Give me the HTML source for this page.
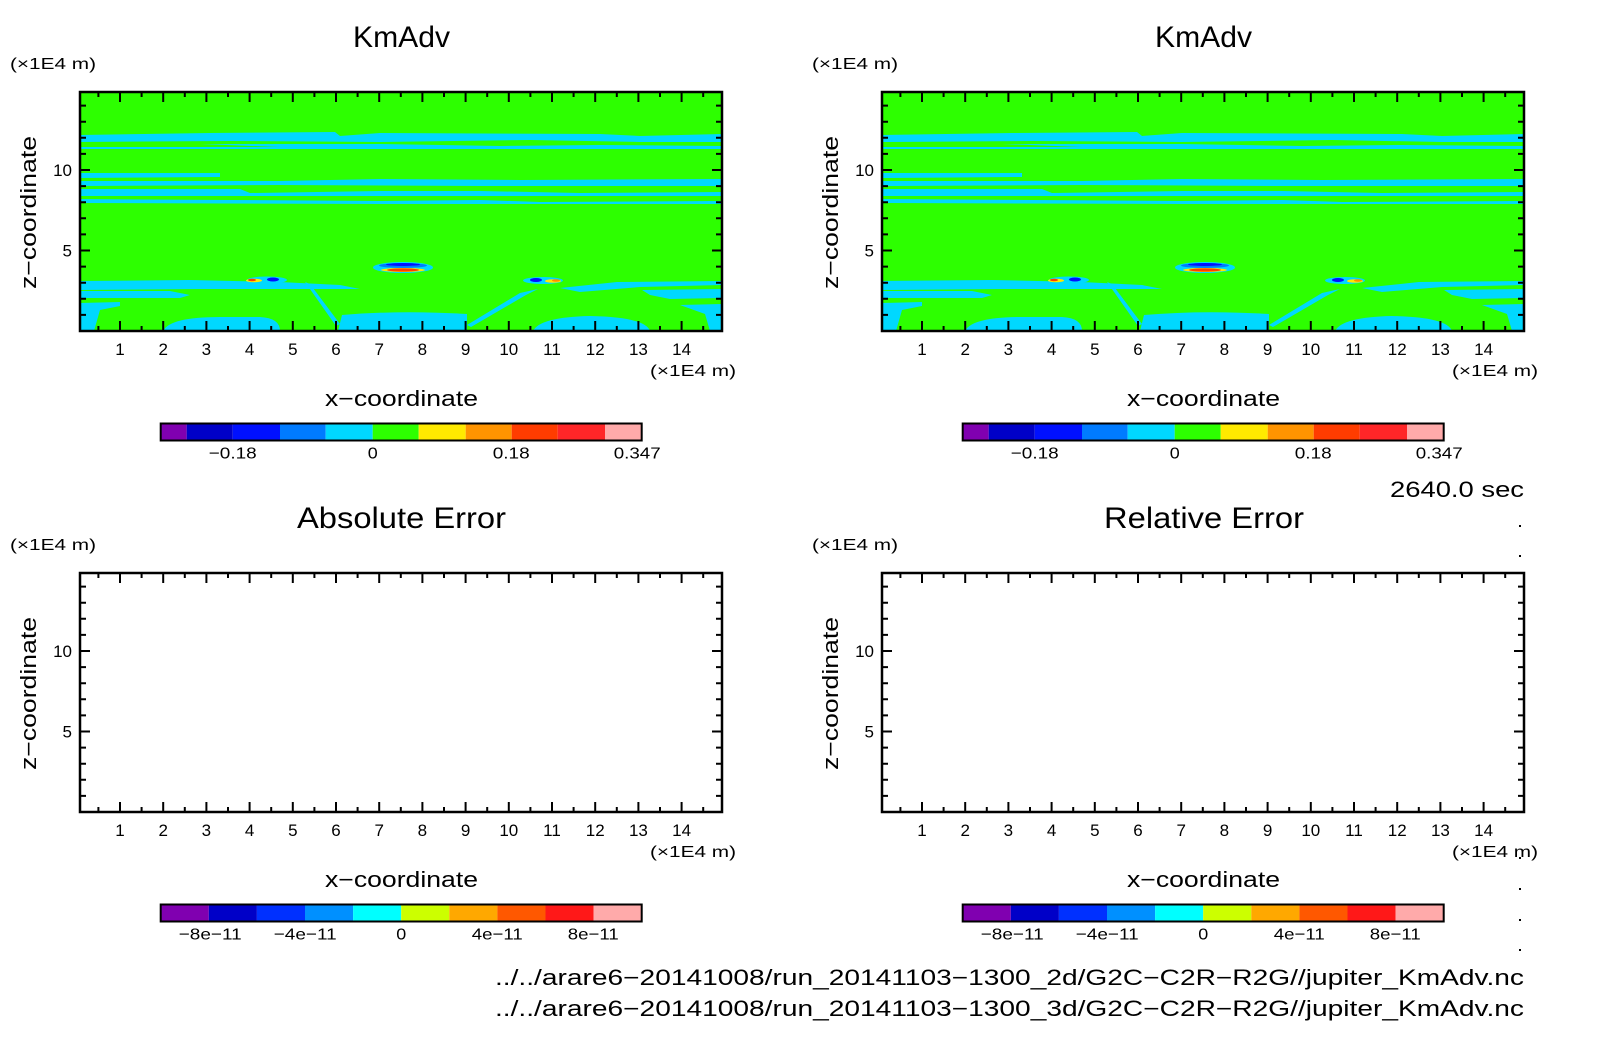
<!DOCTYPE html>
<html><head><meta charset="utf-8"><style>
html,body{margin:0;padding:0;background:#fff;}
svg{display:block;}
text{font-family:"Liberation Sans",sans-serif;fill:#000;}
</style></head><body>
<svg width="1604" height="1054" viewBox="0 0 1604 1054" xmlns="http://www.w3.org/2000/svg">
<defs>
<g id="field">
  <rect x="0" y="0" width="642" height="239" fill="#2dff00"/>
  <g fill="#00d8ff">
    <polygon points="0,43 130,41 255,40 260,44 300,41 520,42 560,44 642,42 642,50 560,50 450,48 300,50 150,49 0,50"/>
    <polygon points="120,52 300,52 420,54 520,53 642,54 642,57 0,57 0,55 200,55"/>
    <polygon points="0,81 140,81 140,85 0,86"/>
    <polygon points="0,89 200,89 300,87 440,88 642,87 642,94 400,94 200,93 0,94"/>
    <polygon points="0,97 160,97 170,101 300,99 400,99 500,101 642,100 642,104 300,104 170,104 0,104"/>
    <polygon points="0,107 150,108 300,109 400,108 460,110 642,109 642,112 300,112 0,111"/>
    <polygon points="0,189 110,188 200,190 260,193 280,197 200,197 120,197 0,198"/>
    <polygon points="0,199 90,199 110,203 100,206 0,206"/>
    <polygon points="0,211 40,210 40,214 20,218 14,239 0,239"/>
    <path d="M83,239 Q90,225 140,225 L180,225 Q200,226 200,239 Z"/>
    <path d="M258,239 L262,223 Q320,218 387,222 L387,239 Z"/>
    <path d="M453,239 Q460,225 510,224 Q565,225 570,239 Z"/>
    <polygon points="225,190 230,192 260,232 256,234"/>
    <polygon points="387,233 440,201 458,197 446,203 391,235"/>
    <polygon points="480,196 537,190 642,189 642,193 560,195 500,200"/>
    <polygon points="562,198 642,197 642,206 590,207 570,203"/>
    <polygon points="600,213 642,212 642,239 630,239 625,222"/>
  </g>
  <ellipse cx="323" cy="175.5" rx="30" ry="5.5" fill="#00d8ff"/>
  <ellipse cx="323" cy="173.5" rx="24" ry="2.5" fill="#007bff"/>
  <ellipse cx="323" cy="172.5" rx="17" ry="1.5" fill="#0010ff"/>
  <ellipse cx="323" cy="178" rx="22" ry="2" fill="#ffea00"/>
  <ellipse cx="323" cy="178" rx="16" ry="1.6" fill="#ff3c00"/>
  <ellipse cx="187" cy="188" rx="20" ry="3.5" fill="#00d8ff"/>
  <ellipse cx="174" cy="188.5" rx="8" ry="1.8" fill="#ffea00"/>
  <ellipse cx="172" cy="188" rx="4" ry="1.2" fill="#ff3c00"/>
  <ellipse cx="193" cy="187.5" rx="6" ry="2" fill="#0010ff"/>
  <ellipse cx="463" cy="188.5" rx="20" ry="3.5" fill="#00d8ff"/>
  <ellipse cx="456" cy="188" rx="6" ry="2" fill="#0010ff"/>
  <ellipse cx="473" cy="189" rx="8" ry="1.8" fill="#ffea00"/>
  <ellipse cx="476" cy="188.5" rx="4" ry="1.2" fill="#ff8c00"/>
</g>
<g id="axes">
  <rect x="0" y="0" width="642" height="239" fill="none" stroke="#000" stroke-width="2.5"/>
  <g stroke="#000">
    <line x1="39" y1="5" x2="642" y2="5" stroke-width="10" stroke-dasharray="2 41.2"/>
    <line x1="17.4" y1="2.5" x2="642" y2="2.5" stroke-width="5" stroke-dasharray="2 41.2"/>
    <line x1="39" y1="234" x2="642" y2="234" stroke-width="10" stroke-dasharray="2 41.2"/>
    <line x1="17.4" y1="236.5" x2="642" y2="236.5" stroke-width="5" stroke-dasharray="2 41.2"/>
    <line x1="3" y1="12.6" x2="3" y2="239" stroke-width="6" stroke-dasharray="2 14.1"/>
    <line x1="639" y1="12.6" x2="639" y2="239" stroke-width="6" stroke-dasharray="2 14.1"/>
    <line x1="0" y1="78" x2="10" y2="78" stroke-width="2"/>
    <line x1="0" y1="158.5" x2="10" y2="158.5" stroke-width="2"/>
    <line x1="632" y1="78" x2="642" y2="78" stroke-width="2"/>
    <line x1="632" y1="158.5" x2="642" y2="158.5" stroke-width="2"/>
  </g>
  <g font-size="17" text-anchor="middle">
    <text x="40" y="263">1</text><text x="83.2" y="263">2</text><text x="126.4" y="263">3</text>
    <text x="169.6" y="263">4</text><text x="212.8" y="263">5</text><text x="256" y="263">6</text>
    <text x="299.2" y="263">7</text><text x="342.4" y="263">8</text><text x="385.6" y="263">9</text>
    <text x="428.8" y="263">10</text><text x="472" y="263">11</text><text x="515.2" y="263">12</text>
    <text x="558.4" y="263">13</text><text x="601.6" y="263">14</text>
  </g>
  <g font-size="17" text-anchor="end">
    <text x="-8" y="84">10</text><text x="-8" y="164.5">5</text>
  </g>
  <text x="-70" y="-23" font-size="16" textLength="86" lengthAdjust="spacingAndGlyphs">(×1E4 m)</text>
  <text x="570" y="284" font-size="16" textLength="86" lengthAdjust="spacingAndGlyphs">(×1E4 m)</text>
  <text x="245" y="314" font-size="22" textLength="153" lengthAdjust="spacingAndGlyphs">x−coordinate</text>
  <text transform="translate(-44,120) rotate(-90)" x="-77" y="0" font-size="22" textLength="153" lengthAdjust="spacingAndGlyphs">z−coordinate</text>
</g>
<g id="cb1">
  <rect x="0" y="0" width="26" height="17" fill="#8000b0"/>
  <rect x="26" y="0" width="46" height="17" fill="#0000c8"/>
  <rect x="72" y="0" width="47.3" height="17" fill="#0010ff"/>
  <rect x="119.3" y="0" width="45.7" height="17" fill="#007bff"/>
  <rect x="165" y="0" width="47" height="17" fill="#00d8ff"/>
  <rect x="212" y="0" width="46" height="17" fill="#2dff00"/>
  <rect x="258" y="0" width="47" height="17" fill="#ffea00"/>
  <rect x="305" y="0" width="46" height="17" fill="#ff9400"/>
  <rect x="351" y="0" width="46" height="17" fill="#ff3c00"/>
  <rect x="397" y="0" width="47.3" height="17" fill="#ff2628"/>
  <rect x="444.3" y="0" width="36.7" height="17" fill="#ffaaaa"/>
  <rect x="0" y="0" width="481" height="17" fill="none" stroke="#000" stroke-width="2"/>
  <g font-size="16">
    <text x="48" y="35" textLength="48" lengthAdjust="spacingAndGlyphs">−0.18</text>
    <text x="207" y="35" textLength="10" lengthAdjust="spacingAndGlyphs">0</text>
    <text x="332" y="35" textLength="37" lengthAdjust="spacingAndGlyphs">0.18</text>
    <text x="453" y="35" textLength="47" lengthAdjust="spacingAndGlyphs">0.347</text>
  </g>
</g>
<g id="cb2">
  <rect x="0" y="0" width="48.1" height="17" fill="#8000b0"/>
  <rect x="48.1" y="0" width="48.1" height="17" fill="#0000c8"/>
  <rect x="96.2" y="0" width="48.1" height="17" fill="#0030ff"/>
  <rect x="144.3" y="0" width="48.1" height="17" fill="#0090ff"/>
  <rect x="192.4" y="0" width="48.1" height="17" fill="#00ffff"/>
  <rect x="240.5" y="0" width="48.1" height="17" fill="#ccff00"/>
  <rect x="288.6" y="0" width="48.1" height="17" fill="#ffa800"/>
  <rect x="336.7" y="0" width="48.1" height="17" fill="#ff5800"/>
  <rect x="384.8" y="0" width="48.1" height="17" fill="#ff1818"/>
  <rect x="432.9" y="0" width="48.1" height="17" fill="#ffaaaa"/>
  <rect x="0" y="0" width="481" height="17" fill="none" stroke="#000" stroke-width="2"/>
  <g font-size="16">
    <text x="18" y="35" textLength="63" lengthAdjust="spacingAndGlyphs">−8e−11</text>
    <text x="113" y="35" textLength="63" lengthAdjust="spacingAndGlyphs">−4e−11</text>
    <text x="235.5" y="35" textLength="10" lengthAdjust="spacingAndGlyphs">0</text>
    <text x="311" y="35" textLength="51" lengthAdjust="spacingAndGlyphs">4e−11</text>
    <text x="407" y="35" textLength="51" lengthAdjust="spacingAndGlyphs">8e−11</text>
  </g>
</g>
</defs>

<text x="353" y="47" font-size="30" textLength="97" lengthAdjust="spacingAndGlyphs">KmAdv</text>
<text x="1155" y="47" font-size="30" textLength="97" lengthAdjust="spacingAndGlyphs">KmAdv</text>
<text x="297" y="528" font-size="30" textLength="209" lengthAdjust="spacingAndGlyphs">Absolute Error</text>
<text x="1104" y="528" font-size="30" textLength="200" lengthAdjust="spacingAndGlyphs">Relative Error</text>

<g transform="translate(80,92)"><use href="#field"/><use href="#axes"/></g>
<g transform="translate(882,92)"><use href="#field"/><use href="#axes"/></g>
<g transform="translate(80,573)"><use href="#axes"/></g>
<g transform="translate(882,573)"><use href="#axes"/></g>

<g transform="translate(160.7,423.5)"><use href="#cb1"/></g>
<g transform="translate(962.7,423.5)"><use href="#cb1"/></g>
<g transform="translate(160.7,904.5)"><use href="#cb2"/></g>
<g transform="translate(962.7,904.5)"><use href="#cb2"/></g>

<text x="1390" y="497" font-size="22" textLength="134" lengthAdjust="spacingAndGlyphs">2640.0 sec</text>
<g fill="#000">
  <rect x="1519" y="525" width="2" height="2"/><rect x="1519" y="555" width="2" height="2"/>
  <rect x="1519" y="857" width="2" height="2"/><rect x="1519" y="888" width="2" height="2"/>
  <rect x="1519" y="919" width="2" height="2"/><rect x="1519" y="949" width="2" height="2"/>
</g>
<text x="495" y="985" font-size="22" textLength="1029" lengthAdjust="spacingAndGlyphs">../../arare6−20141008/run_20141103−1300_2d/G2C−C2R−R2G//jupiter_KmAdv.nc</text>
<text x="495" y="1016" font-size="22" textLength="1029" lengthAdjust="spacingAndGlyphs">../../arare6−20141008/run_20141103−1300_3d/G2C−C2R−R2G//jupiter_KmAdv.nc</text>
</svg>
</body></html>
